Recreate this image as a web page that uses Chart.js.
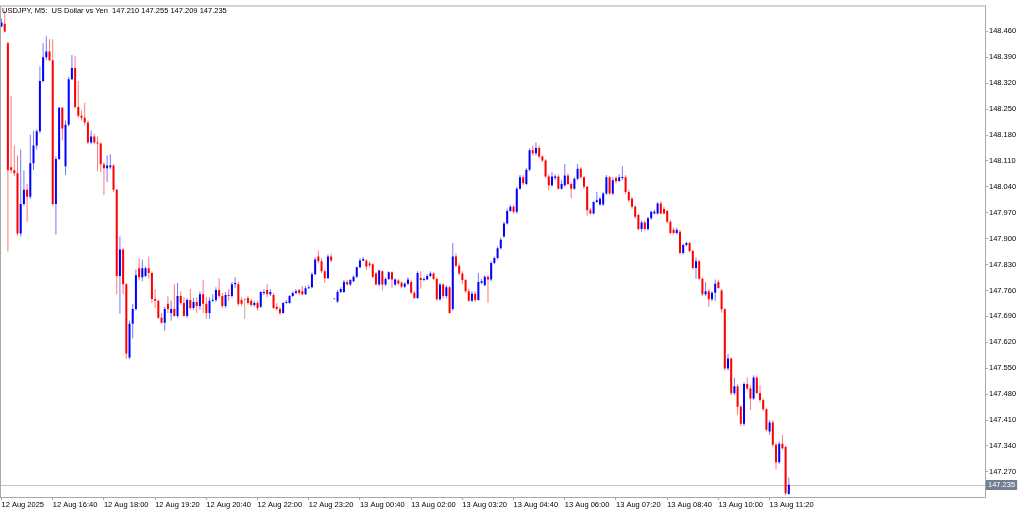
<!DOCTYPE html>
<html>
<head>
<meta charset="utf-8">
<title>USDJPY M5</title>
<script src="https://cdn.jsdelivr.net/npm/chart.js@4.4.1/dist/chart.umd.min.js"></script>
<style>
  html, body { margin:0; padding:0; background:#fff; }
  #chart { display:block; }
</style>
</head>
<body>
<canvas id="chart" width="1024" height="511"></canvas>
<script>
// USDJPY M5 candles, 12 Aug 15:20 .. 13 Aug 11:50 (one value per bar)
const symbolTitle = "USDJPY, M5:  US Dollar vs Yen";

const opens = [
  148.473,148.481,148.428,148.093,148.085,148.077,147.914,147.994,148.032,148.013,
  148.104,148.152,148.190,148.326,148.390,148.406,148.382,147.994,148.115,148.254,
  148.096,148.208,148.331,148.361,148.256,148.232,148.227,148.214,148.160,148.176,
  148.160,148.157,148.101,148.090,148.093,148.098,148.032,147.799,147.871,147.777,
  147.579,147.670,147.710,147.820,147.796,147.799,147.820,147.807,147.737,147.732,
  147.686,147.673,147.724,147.699,147.710,147.691,147.745,147.726,147.691,147.734,
  147.713,147.729,147.718,147.750,147.724,147.699,147.732,147.734,147.761,147.745,
  147.718,147.748,147.745,147.777,147.777,147.734,147.734,147.740,147.732,147.721,
  147.726,147.716,147.753,147.761,147.750,147.748,147.716,147.710,147.699,147.726,
  147.726,147.745,147.753,147.761,147.758,147.750,147.766,147.769,147.804,147.852,
  147.839,147.812,147.793,147.852,147.737,147.730,147.756,147.756,147.783,147.776,
  147.785,147.797,147.823,147.841,147.841,147.833,147.831,147.806,147.776,147.812,
  147.776,147.791,147.809,147.776,147.787,147.781,147.770,147.778,147.783,147.754,
  147.740,147.794,147.788,147.790,147.799,147.806,147.791,147.736,147.776,147.745,
  147.769,147.710,147.852,147.827,147.806,147.788,147.758,147.732,147.751,147.734,
  147.781,147.774,147.797,147.790,147.834,147.848,147.874,147.906,147.941,147.975,
  147.986,147.973,148.035,148.066,148.048,148.086,148.139,148.131,148.145,148.122,
  148.111,148.068,148.044,148.064,148.068,148.035,148.044,148.071,148.048,148.035,
  148.062,148.089,148.066,148.040,147.977,147.968,147.999,147.992,147.992,148.022,
  148.066,148.022,148.064,148.056,148.064,148.066,148.026,148.008,147.986,147.964,
  147.926,147.944,147.926,147.955,147.968,147.968,147.995,147.980,147.975,147.946,
  147.924,147.915,147.919,147.861,147.883,147.888,147.867,147.821,147.839,147.792,
  147.750,147.758,147.736,147.754,147.783,147.760,147.709,147.549,147.576,147.482,
  147.501,147.446,147.400,147.507,147.495,147.468,147.525,147.483,147.464,147.439,
  147.379,147.403,147.343,147.296,147.346,147.337,147.210
];

const highs = [
  148.495,148.516,148.433,148.286,148.152,148.125,148.141,148.085,148.048,148.181,
  148.192,148.195,148.366,148.428,148.447,148.439,148.439,148.123,148.256,148.256,
  148.219,148.337,148.396,148.393,148.326,148.246,148.267,148.219,148.192,148.184,
  148.176,148.160,148.107,148.125,148.128,148.101,148.034,147.906,147.874,147.780,
  147.678,147.724,147.817,147.847,147.844,147.825,147.852,147.812,147.764,147.734,
  147.699,147.716,147.745,147.732,147.777,147.780,147.758,147.742,147.740,147.764,
  147.740,147.742,147.758,147.788,147.742,147.742,147.750,147.769,147.793,147.753,
  147.756,147.764,147.783,147.796,147.783,147.742,147.740,147.745,147.737,147.732,
  147.732,147.758,147.764,147.777,147.764,147.753,147.726,147.716,147.729,147.734,
  147.748,147.758,147.764,147.764,147.772,147.772,147.774,147.809,147.849,147.868,
  147.847,147.817,147.857,147.860,147.740,147.761,147.769,147.788,147.788,147.791,
  147.801,147.825,147.847,147.850,147.844,147.839,147.833,147.809,147.817,147.815,
  147.796,147.812,147.812,147.793,147.791,147.785,147.783,147.796,147.788,147.758,
  147.812,147.812,147.796,147.804,147.812,147.809,147.796,147.780,147.780,147.774,
  147.772,147.888,147.861,147.833,147.812,147.791,147.764,147.758,147.758,147.807,
  147.791,147.801,147.801,147.839,147.852,147.879,147.903,147.946,147.981,147.991,
  147.991,148.040,148.072,148.072,148.090,148.144,148.152,148.160,148.152,148.125,
  148.115,148.074,148.080,148.074,148.074,148.058,148.102,148.077,148.053,148.066,
  148.102,148.093,148.069,148.042,147.983,148.002,148.026,148.013,148.026,148.072,
  148.069,148.066,148.069,148.074,148.096,148.072,148.032,148.013,147.991,147.967,
  147.949,147.949,147.959,147.975,147.978,147.999,148.002,147.986,147.978,147.951,
  147.930,147.930,147.924,147.887,147.892,147.892,147.871,147.849,147.844,147.796,
  147.783,147.764,147.758,147.790,147.788,147.764,147.713,147.589,147.579,147.524,
  147.507,147.450,147.512,147.525,147.504,147.531,147.528,147.504,147.469,147.442,
  147.410,147.410,147.349,147.351,147.370,147.341,147.255
];

const lows = [
  148.471,148.457,147.865,148.077,148.069,147.908,147.906,147.989,147.946,148.007,
  148.085,148.141,148.184,148.321,148.382,148.380,147.989,147.911,148.112,148.165,
  148.072,148.203,148.329,148.251,148.227,148.219,148.206,148.155,148.155,148.155,
  148.082,148.080,148.018,148.053,148.088,148.026,147.750,147.697,147.750,147.574,
  147.574,147.630,147.705,147.788,147.785,147.796,147.793,147.726,147.713,147.683,
  147.670,147.651,147.699,147.678,147.689,147.686,147.721,147.689,147.686,147.708,
  147.708,147.699,147.708,147.699,147.683,147.683,147.729,147.729,147.740,147.713,
  147.713,147.732,147.740,147.766,147.718,147.718,147.683,147.721,147.716,147.716,
  147.705,147.713,147.748,147.742,147.745,147.710,147.705,147.694,147.697,147.724,
  147.724,147.742,147.750,147.748,147.748,147.748,147.764,147.766,147.801,147.833,
  147.807,147.780,147.791,147.836,147.734,147.726,147.753,147.753,147.774,147.772,
  147.783,147.793,147.820,147.839,147.816,147.823,147.793,147.774,147.772,147.760,
  147.772,147.788,147.767,147.772,147.774,147.766,147.766,147.774,147.750,147.737,
  147.737,147.765,147.785,147.788,147.796,147.788,147.732,147.732,147.740,147.740,
  147.697,147.705,147.823,147.801,147.777,147.753,147.729,147.729,147.729,147.732,
  147.777,147.772,147.727,147.785,147.831,147.844,147.871,147.903,147.938,147.973,
  147.967,147.967,148.032,148.045,148.045,148.082,148.125,148.125,148.117,148.107,
  148.064,148.031,148.040,148.058,148.032,148.032,148.040,148.045,148.010,148.032,
  148.058,148.061,148.034,147.962,147.965,147.965,147.997,147.989,147.989,148.018,
  148.018,148.018,148.050,148.053,148.058,148.021,147.999,147.981,147.954,147.922,
  147.919,147.922,147.922,147.951,147.965,147.965,147.965,147.965,147.941,147.911,
  147.911,147.911,147.857,147.857,147.879,147.863,147.817,147.792,147.788,147.745,
  147.745,147.716,147.732,147.732,147.764,147.700,147.544,147.544,147.477,147.477,
  147.424,147.394,147.394,147.491,147.437,147.464,147.480,147.458,147.434,147.378,
  147.370,147.338,147.276,147.292,147.330,147.207,147.209
];

const closes = [
  148.484,148.460,148.085,148.085,148.077,147.914,147.994,148.032,148.013,148.104,
  148.152,148.190,148.326,148.390,148.406,148.382,147.994,148.115,148.254,148.198,
  148.208,148.331,148.361,148.256,148.232,148.227,148.214,148.160,148.176,148.160,
  148.157,148.101,148.090,148.098,148.098,148.032,147.799,147.871,147.777,147.590,
  147.670,147.710,147.801,147.796,147.820,147.820,147.807,147.737,147.732,147.686,
  147.673,147.710,147.710,147.710,147.691,147.745,147.726,147.691,147.734,147.713,
  147.729,147.718,147.750,147.724,147.699,147.732,147.734,147.761,147.745,147.718,
  147.748,147.745,147.777,147.780,147.724,147.724,147.734,147.726,147.721,147.726,
  147.713,147.756,147.756,147.750,147.756,147.713,147.710,147.699,147.726,147.729,
  147.745,147.753,147.758,147.753,147.750,147.766,147.769,147.804,147.844,147.839,
  147.812,147.793,147.852,147.841,147.737,147.756,147.764,147.783,147.776,147.788,
  147.797,147.823,147.841,147.845,147.825,147.828,147.797,147.776,147.814,147.776,
  147.791,147.809,147.790,147.790,147.779,147.770,147.778,147.790,147.754,147.740,
  147.807,147.788,147.791,147.799,147.806,147.791,147.736,147.776,147.745,147.769,
  147.699,147.852,147.827,147.806,147.788,147.758,147.732,147.751,147.734,147.783,
  147.785,147.797,147.790,147.834,147.848,147.874,147.897,147.941,147.975,147.986,
  147.973,148.035,148.066,148.050,148.086,148.139,148.131,148.145,148.122,148.111,
  148.068,148.044,148.068,148.068,148.035,148.048,148.071,148.048,148.035,148.062,
  148.089,148.066,148.040,147.977,147.968,147.999,148.004,148.008,148.022,148.066,
  148.022,148.058,148.055,148.066,148.066,148.026,148.004,147.986,147.959,147.926,
  147.944,147.926,147.955,147.973,147.973,147.995,147.968,147.968,147.946,147.915,
  147.915,147.924,147.861,147.883,147.888,147.867,147.821,147.839,147.792,147.750,
  147.758,147.736,147.754,147.778,147.767,147.709,147.549,147.576,147.482,147.501,
  147.446,147.400,147.507,147.495,147.468,147.525,147.483,147.464,147.439,147.384,
  147.403,147.343,147.296,147.346,147.334,147.212,147.235
];

// time axis: a label every 16 bars (80 minutes)
const timeTickBars = [0,16,32,48,64,80,96,112,128,144,160,176,192,208,224,240];
const timeLabels = [
  "12 Aug 2025","12 Aug 16:40","12 Aug 18:00","12 Aug 19:20","12 Aug 20:40","12 Aug 22:00",
  "12 Aug 23:20","13 Aug 00:40","13 Aug 02:00","13 Aug 03:20","13 Aug 04:40","13 Aug 06:00",
  "13 Aug 07:20","13 Aug 08:40","13 Aug 10:00","13 Aug 11:20"
];
const priceTicks = [
  147.270,147.340,147.410,147.480,147.550,147.620,147.690,147.760,147.830,
  147.900,147.970,148.040,148.110,148.180,148.250,148.320,148.390,148.460
];

// colours
const upColor = "#0000ff", downColor = "#ff0000", dojiColor = "#a0a0a0";
const upWick = "#7878ff", downWick = "#ff7878", dojiWick = "#b0b0b0";
const frameColor = "#a8a8a8";
const axisFont = { family: "'Liberation Sans', Arial, sans-serif", size: 7.5 };

const bodyColors = opens.map((o, i) => closes[i] > o ? upColor : (closes[i] < o ? downColor : dojiColor));
const wickColors = opens.map((o, i) => closes[i] > o ? upWick : (closes[i] < o ? downWick : dojiWick));

const last = closes.length - 1;

// frame, bid line, title and last price tag (MT4 look)
const mtDecor = {
  id: "mtDecor",
  beforeDatasetsDraw(chart){
    const {ctx, chartArea:a, scales:{y}} = chart;
    const py = Math.round(y.getPixelForValue(closes[last])) + 0.5;
    ctx.save();
    ctx.strokeStyle = "#c4c4c4";
    ctx.lineWidth = 1;
    ctx.beginPath(); ctx.moveTo(a.left, py); ctx.lineTo(a.right, py); ctx.stroke();
    ctx.restore();
  },
  afterDraw(chart){
    const {ctx, chartArea:a, scales:{y}} = chart;
    ctx.save();
    ctx.strokeStyle = frameColor;
    ctx.lineWidth = 1;
    ctx.strokeRect(a.left + 0.5, a.top + 0.5, a.right - a.left, a.bottom - a.top);

    ctx.font = "7.5px 'Liberation Sans', Arial, sans-serif";
    ctx.fillStyle = "#000";
    ctx.textBaseline = "middle";
    ctx.textAlign = "left";
    const ohlc = [opens[last], highs[last], lows[last], closes[last]].map(v => v.toFixed(3)).join(" ");
    ctx.fillText(symbolTitle + "  " + ohlc, a.left + 2, a.top + 5);

    const py = Math.round(y.getPixelForValue(closes[last]));
    const label = closes[last].toFixed(3);
    const w = ctx.measureText(label).width + 4;
    ctx.fillStyle = "#708090";
    ctx.fillRect(a.right + 1, py - 5, w, 10);
    ctx.fillStyle = "#fff";
    ctx.fillText(label, a.right + 3, py);
    ctx.restore();
  }
};

const ctx = document.getElementById("chart").getContext("2d");
new Chart(ctx, {
  type: "bar",
  data: {
    datasets: [
      {
        label: "body",
        data: opens.map((o, i) => ({ x: i, y: [o, closes[i]] })),
        backgroundColor: bodyColors,
        barThickness: 2,
        minBarLength: 1,
        inflateAmount: 0,
        borderWidth: 0,
        grouped: false,
        order: 0
      },
      {
        label: "wick",
        data: lows.map((l, i) => ({ x: i, y: [l, highs[i]] })),
        backgroundColor: wickColors,
        barThickness: 1,
        inflateAmount: 0,
        borderWidth: 0,
        grouped: false,
        order: 1
      }
    ]
  },
  options: {
    responsive: false,
    animation: false,
    layout: { padding: { top: 2, left: 0, right: 0, bottom: 0 } },
    plugins: { legend: { display: false }, tooltip: { enabled: false } },
    scales: {
      x: {
        type: "linear",
        min: -0.47,
        max: 307.3,
        offset: false,
        border: { display: false },
        grid: { offset: false, drawOnChartArea: false, drawTicks: true, tickLength: 3, color: frameColor },
        ticks: {
          autoSkip: false, maxRotation: 0, minRotation: 0, align: "start", padding: 0,
          color: "#000", font: axisFont,
          callback: (v, idx) => timeLabels[idx]
        },
        afterBuildTicks: s => { s.ticks = timeTickBars.map(v => ({ value: v })); },
        afterFit: s => { s.height = 14; }
      },
      y: {
        position: "right",
        min: 147.202,
        max: 148.530,
        border: { display: false },
        grid: { drawOnChartArea: false, drawTicks: true, tickLength: 3, color: frameColor },
        ticks: {
          autoSkip: false, padding: 1, color: "#000", font: axisFont,
          callback: v => Number(v).toFixed(3)
        },
        afterBuildTicks: s => { s.ticks = priceTicks.map(v => ({ value: v })); },
        afterFit: s => { s.width = 39; }
      }
    }
  },
  plugins: [mtDecor]
});
</script>
</body>
</html>
